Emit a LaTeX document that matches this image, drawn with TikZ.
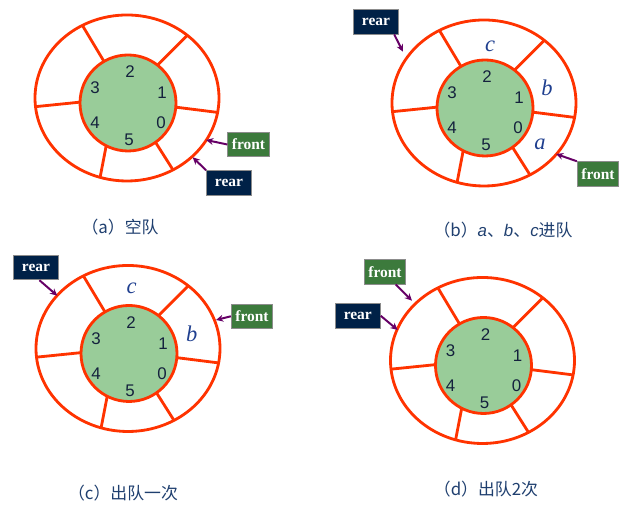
\documentclass[tikz,border=0pt]{standalone}
\usepackage{fontspec}
\setmainfont{Liberation Serif}
\setsansfont{Liberation Sans}
\newfontfamily\cjk{Noto Sans CJK SC}
\usetikzlibrary{arrows.meta,calc}
\definecolor{ringred}{HTML}{FF3300}
\definecolor{poolgreen}{HTML}{99CC99}
\definecolor{tagnavy}{HTML}{002147}
\definecolor{taggreen}{HTML}{3C7A3C}
\definecolor{ptrplum}{HTML}{660066}
\definecolor{digitnavy}{HTML}{14213D}
\definecolor{itemblue}{HTML}{1F3F8F}
\definecolor{capblue}{HTML}{1F3F6F}
\tikzset{
  >={Stealth[length=1.8mm,width=1.7mm]},
  % ring
  ringline/.style={draw=ringred,line width=2pt},
  hub/.style={ringline,fill=poolgreen},
  idx/.style={font=\sffamily\fontsize{12}{12}\selectfont,text=digitnavy,inner sep=0pt},
  item/.style={font=\itshape\fontsize{16}{16}\selectfont,text=itemblue,inner sep=0pt},
  % pointers
  tag/.style={draw=black!45,line width=0.6pt,text=white,
              font=\bfseries\fontsize{11}{11}\selectfont,minimum height=17.5pt,inner xsep=2pt},
  fronttag/.style={tag,fill=taggreen,minimum width=29.5pt},
  reartag/.style={tag,fill=tagnavy,minimum width=32pt},
  ptr/.style={->,draw=ptrplum,line width=1.4pt},
  captext/.style={font=\cjk\fontsize{12}{12}\selectfont,text=capblue},
}
\begin{document}
\begin{tikzpicture}[x=0.025cm,y=0.025cm]
\useasboundingbox (0,0) rectangle (634,510);
  \foreach \q/\cx/\cy in {a/128/407,b/485/402,c/129/156.5,d/483.5/144.5}{
    \begin{scope}[shift={(\cx,\cy)}]
      \draw[ringline] (-1,5) ellipse [x radius=92,y radius=83];
      \draw[hub] (0,0) circle [radius=48];
      \foreach \ai/\ao in {120/119,52/49,-5/-10,-55/-60,-117/-107,179/186}
        \draw[ringline] (\ai:48) -- ([shift={(-1,5)}]\ao:92 and 83);
      \node[idx] (\q0) at (33,-20) {0};
      \node[idx] (\q1) at (34,10) {1};
      \node[idx] (\q2) at (2,31) {2};
      \node[idx] (\q3) at (-33,15) {3};
      \node[idx] (\q4) at (-33,-20) {4};
      \node[idx] (\q5) at (1,-37) {5};
    \end{scope}
  }
  % (a)
  \node[fronttag] (aFront) at (248.5,365.5) {front};
  \node[reartag] (aRear) at (229,327) {rear};
  \coordinate (aFrontTip) at (206,370);
  \coordinate (aRearTip) at (192.7,352.7);
  \draw[ptr] (aFront.west) -- (aFrontTip);
  \draw[ptr] (aRear.north west) -- (aRearTip);
  \node[captext] (aCap) at (120,283) {（a）空队};
  % (b)
  \node[item] (bA) at (540,366) {a};
  \node[item] (bB) at (547,422) {b};
  \node[item] (bC) at (490,463.5) {c};
  \node[reartag] (bRear) at (376,488.3) {rear};
  \node[fronttag] (bFront) at (598,336) {front};
  \coordinate (bRearTip) at (403,458.3);
  \coordinate (bFrontTip) at (556,356);
  \draw[ptr] (bRear.-35) -- (bRearTip);
  \draw[ptr] (bFront.north west) -- (bFrontTip);
  \node[captext] (bCap) at (503,280) {（b）{\sffamily\itshape a}、{\sffamily\itshape b}、{\sffamily\itshape c}进队};
  % (c)
  \node[item] (cB) at (191.7,175.7) {b};
  \node[item] (cC) at (131.7,221.7) {c};
  \node[reartag] (cRear) at (36,242.5) {rear};
  \node[fronttag] (cFront) at (252,193.7) {front};
  \coordinate (cRearTip) at (57.3,214.3);
  \coordinate (cFrontTip) at (216,190);
  \draw[ptr] (cRear.-75) -- (cRearTip);
  \draw[ptr] (cFront.west) -- (cFrontTip);
  \node[captext] (cCap) at (123,17) {（c）出队一次};
  % (d)
  \node[fronttag] (dFront) at (385,238.3) {front};
  \node[reartag] (dRear) at (357.8,194.2) {rear};
  \coordinate (dFrontTip) at (412,209.3);
  \coordinate (dRearTip) at (397.7,180);
  \draw[ptr] (dFront.-50) -- (dFrontTip);
  \draw[ptr] (dRear.east) -- (dRearTip);
  \node[captext] (dCap) at (486,21) {（d）出队2次};
\end{tikzpicture}
\end{document}
